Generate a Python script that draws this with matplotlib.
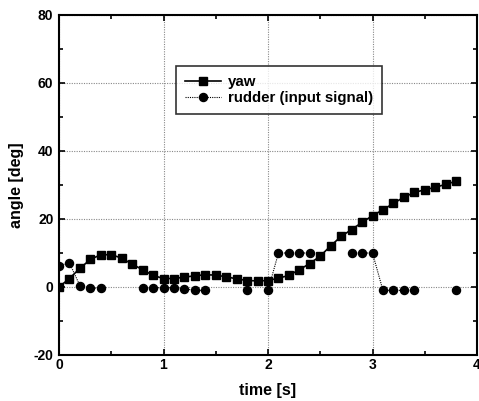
import numpy as np
import matplotlib
matplotlib.use("Agg")
import matplotlib.pyplot as plt
from matplotlib.ticker import MultipleLocator

plt.rcParams['font.family'] = ['Liberation Sans', 'DejaVu Sans']
plt.rcParams['axes.unicode_minus'] = False

# Sampling times (s)
time = np.round(np.arange(0.0, 3.81, 0.1), 1)

# Yaw angle (deg)
yaw = [0.0, 2.5, 5.5, 8.1, 9.5, 9.5, 8.5, 6.7, 5.1, 3.4,
       2.5, 2.5, 2.9, 3.3, 3.6, 3.5, 3.0, 2.4, 1.9, 1.8,
       1.9, 2.6, 3.4, 5.1, 6.9, 9.1, 12.1, 14.9, 16.9, 19.0,
       21.0, 22.7, 24.6, 26.4, 27.8, 28.6, 29.3, 30.2, 31.1]

# Rudder input signal (deg); nan = no sample recorded
nan = np.nan
rudder = [6.3, 7.1, 0.4, -0.3, -0.3, nan, nan, nan, -0.2, -0.2,
          -0.2, -0.2, -0.5, -1.0, -1.0, nan, nan, nan, -1.0, nan,
          -1.0, 10.0, 10.0, 10.0, 10.0, nan, nan, nan, 10.0, 10.0,
          10.0, -1.0, -1.0, -1.0, -1.0, nan, nan, nan, -1.0]

fig = plt.figure(figsize=(4.79, 4.01), dpi=100)
ax = fig.add_axes([59 / 479, 1 - 355 / 401, (477 - 59) / 479, (355 - 15) / 401])

ax.plot(time, yaw, color='black', lw=1.2, marker='s', ms=5.2,
        label='yaw', zorder=3)
ax.plot(time, rudder, color='black', lw=0.8, ls=(0, (1, 1)), marker='o',
        ms=5.8, label='rudder (input signal)', zorder=3)

ax.set_xlim(0, 4)
ax.set_ylim(-20, 80)
ax.xaxis.set_major_locator(MultipleLocator(1))
ax.xaxis.set_minor_locator(MultipleLocator(0.5))
ax.yaxis.set_major_locator(MultipleLocator(20))
ax.yaxis.set_minor_locator(MultipleLocator(10))
ax.tick_params(which='both', direction='in', top=True, right=True,
               width=1.2, labelsize=10)
ax.tick_params(axis='x', pad=2)
ax.tick_params(axis='y', pad=4)
ax.tick_params(which='major', length=4)
ax.tick_params(which='minor', length=3)
for lab in ax.get_xticklabels() + ax.get_yticklabels():
    lab.set_fontweight('bold')
for sp in ax.spines.values():
    sp.set_linewidth(1.5)

ax.grid(True, which='major', color='#888888', ls=(0, (1, 1.2)), lw=0.8)

ax.set_xlabel('time [s]', fontsize=11.5, fontweight='bold', labelpad=8)
ax.set_ylabel('angle [deg]', fontsize=11.5, fontweight='bold', labelpad=7)

leg = ax.legend(loc='upper left',
                bbox_to_anchor=((176 - 59) / 418, (355 - 66) / 340),
                borderaxespad=0, fontsize=10.8, frameon=True, fancybox=False,
                edgecolor='black', borderpad=0.6, handlelength=2.4,
                labelspacing=0.15, handletextpad=0.45)
leg.get_frame().set_linewidth(1.2)
for t in leg.get_texts():
    t.set_fontweight('bold')

fig.savefig('out.png', dpi=100)
